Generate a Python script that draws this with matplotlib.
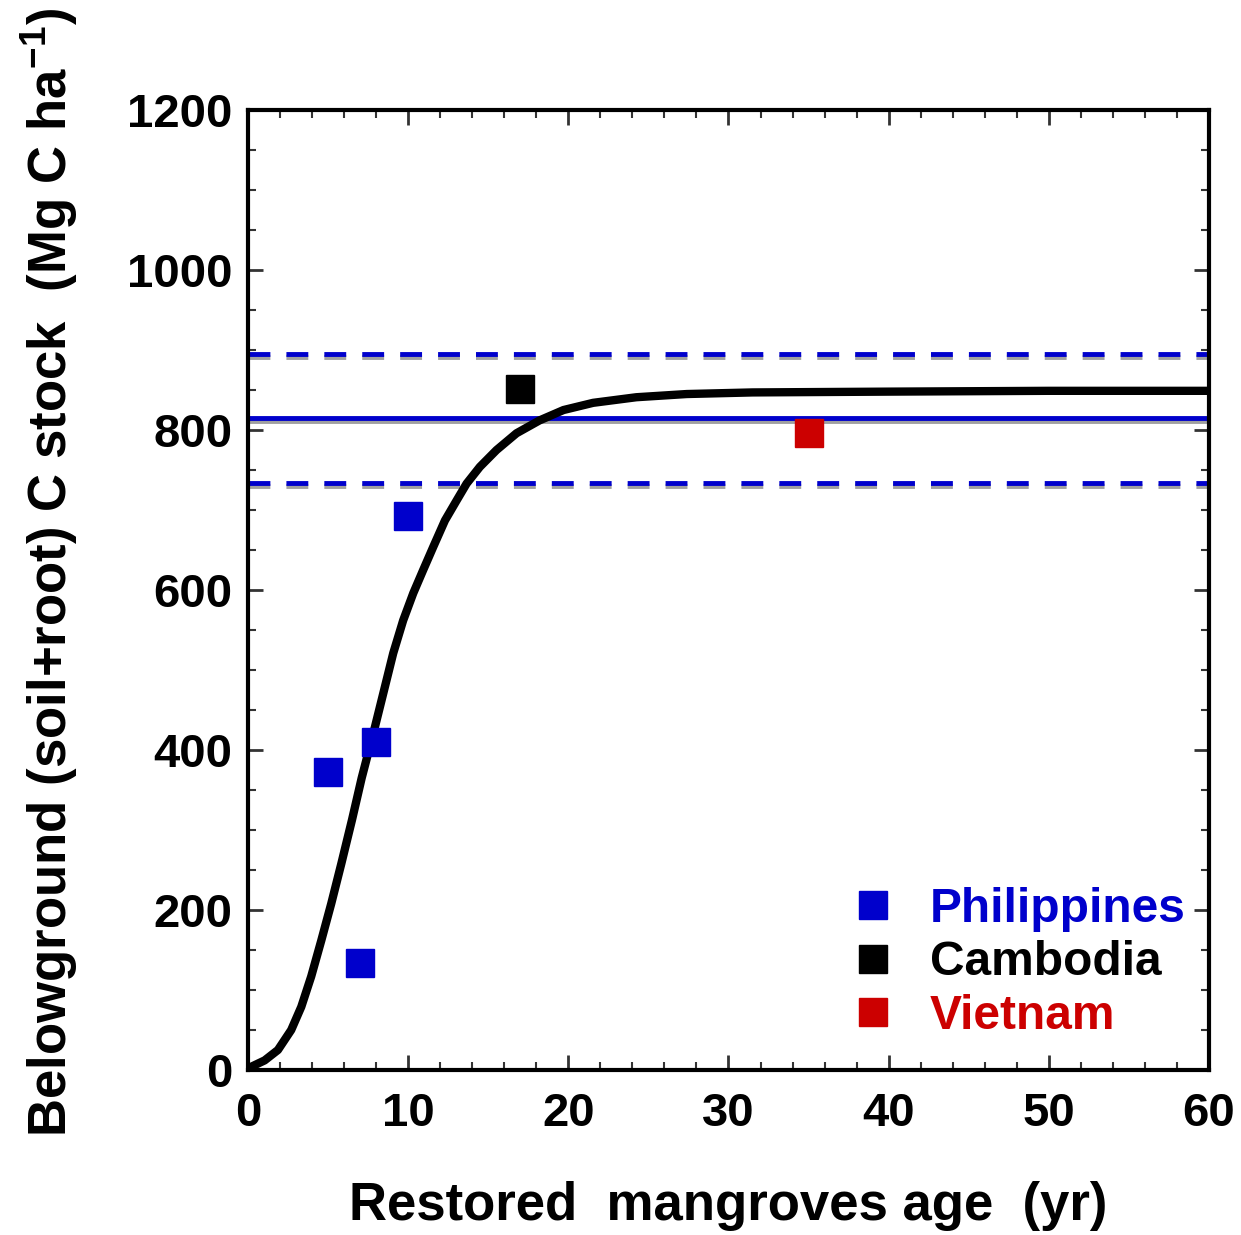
import matplotlib
matplotlib.use("Agg")
import matplotlib.pyplot as plt
from matplotlib.ticker import MultipleLocator

plt.rcParams['font.family'] = ['Liberation Sans', 'DejaVu Sans']
plt.rcParams['font.weight'] = 'bold'
plt.rcParams['mathtext.fontset'] = 'custom'
plt.rcParams['mathtext.rm'] = 'Liberation Sans:bold'
plt.rcParams['mathtext.bf'] = 'Liberation Sans:bold'
plt.rcParams['mathtext.default'] = 'bf'

# Data
phil_age = [5, 7, 8, 10]
phil_stock = [373, 134, 410, 692]
camb_age = [17]
camb_stock = [851]
viet_age = [35]
viet_stock = [796]

curve_age = [0, 0.2, 1.04, 1.87, 2.7, 3.33, 3.95, 4.58, 5.2, 5.83, 6.5, 7.1,
             7.93, 8.55, 9.07, 9.69, 10.32, 10.94, 11.57, 12.3, 13.03, 13.65,
             14.48, 15.52, 16.77, 18.2, 19.7, 21.55, 24.25, 27.4, 31.5, 40, 50, 60]
curve_stock = [0, 4, 12, 25, 50, 79, 117, 162, 208, 258, 313, 365,
               429, 479, 521, 562, 596, 625, 654, 687, 712, 733,
               754, 775, 796, 812, 825, 834, 841, 845, 847, 848, 849, 849]

mean_blue = 815
upper_blue = 895
lower_blue = 734
mean_gray = 811
upper_gray = 891
lower_gray = 730

fig = plt.figure(figsize=(12.41, 12.35), dpi=100)
ax = fig.add_axes([0.1998, 0.1336, 0.7744, 0.7773])

xs = [0, 60]
ax.plot(xs, [mean_gray]*2, color='#a0a0a0', lw=3.5, solid_capstyle='butt')
ax.plot(xs, [upper_gray]*2, color='#a0a0a0', lw=3.5, dashes=(4.5, 3.3), dash_capstyle='butt')
ax.plot(xs, [lower_gray]*2, color='#a0a0a0', lw=3.5, dashes=(4.5, 3.3), dash_capstyle='butt')
ax.plot(xs, [mean_blue]*2, color='#0000cc', lw=3.5, solid_capstyle='butt')
ax.plot(xs, [upper_blue]*2, color='#0000cc', lw=3.5, dashes=(4.5, 3.3), dash_capstyle='butt')
ax.plot(xs, [lower_blue]*2, color='#0000cc', lw=3.5, dashes=(4.5, 3.3), dash_capstyle='butt')

ax.plot(curve_age, curve_stock, color='black', lw=6, zorder=3,
        solid_joinstyle='round', solid_capstyle='round')

ax.plot(phil_age, phil_stock, 's', color='#0000cc', ms=20, mec='#0000cc', ls='none', label='Philippines', zorder=4)
ax.plot(camb_age, camb_stock, 's', color='black', ms=20, ls='none', label='Cambodia', zorder=4)
ax.plot(viet_age, viet_stock, 's', color='#cc0000', ms=20, mec='#cc0000', ls='none', label='Vietnam', zorder=4)

ax.set_xlim(0, 60)
ax.set_ylim(0, 1200)
ax.xaxis.set_major_locator(MultipleLocator(10))
ax.xaxis.set_minor_locator(MultipleLocator(2))
ax.yaxis.set_major_locator(MultipleLocator(200))
ax.yaxis.set_minor_locator(MultipleLocator(50))
ax.tick_params(which='both', direction='in', top=True, right=True, color='#333333')
ax.tick_params(which='major', length=11, width=2)
ax.tick_params(which='minor', length=6, width=1.5)
ax.tick_params(axis='both', which='major', labelsize=34)
ax.tick_params(axis='y', pad=11)
ax.tick_params(axis='x', pad=16)
for lab in ax.get_xticklabels() + ax.get_yticklabels():
    lab.set_fontweight('bold')
for s in ax.spines.values():
    s.set_linewidth(3)

ax.set_xlabel('Restored  mangroves age  (yr)', fontsize=38, fontweight='bold', labelpad=32)
fig.text(50/1241, 1 - 572/1235, 'Belowground (soil+root) C stock  (Mg C ha$^{-1}$)',
         rotation=90, ha='center', va='center', fontsize=38, fontweight='bold')

leg = ax.legend(loc='lower left', bbox_to_anchor=(851/1241, 1 - 1039/1235),
                bbox_transform=fig.transFigure, frameon=False, fontsize=34.5,
                handlelength=0.9, handletextpad=0.75, labelspacing=0.18,
                borderpad=0, borderaxespad=0, markerscale=1.0)
for t, c in zip(leg.get_texts(), ['#0000cc', 'black', '#cc0000']):
    t.set_color(c)
    t.set_fontweight('bold')

fig.savefig('out.png', dpi=100)
